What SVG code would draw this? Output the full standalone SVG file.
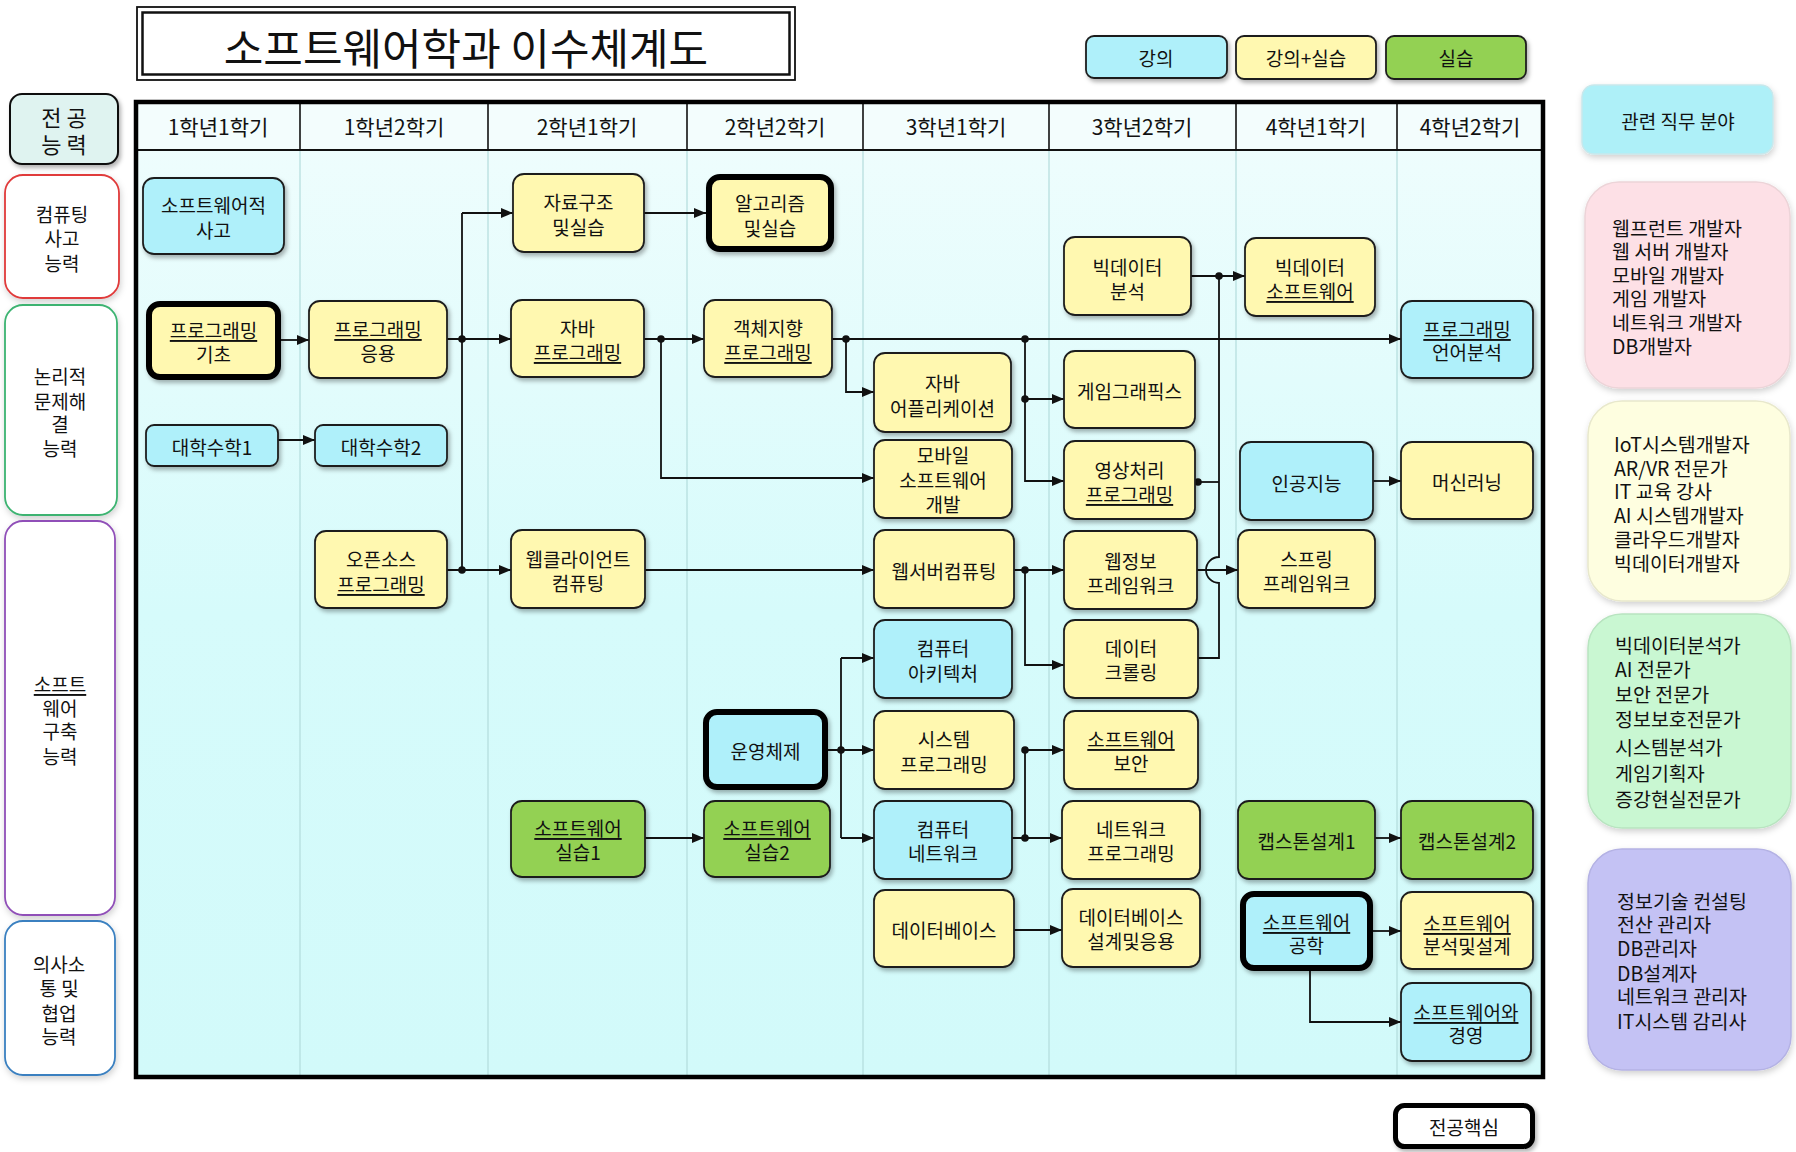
<svg xmlns="http://www.w3.org/2000/svg" width="1796" height="1152" viewBox="0 0 1796 1152">
<defs>
<style>
text{font-family:'Noto Sans CJK KR','Noto Sans',sans-serif;fill:#111;}
.t{font-size:19px;text-anchor:middle;dominant-baseline:central;}
.h{font-size:21px;text-anchor:middle;dominant-baseline:central;}
.r{font-size:19.5px;dominant-baseline:central;}
.u{text-decoration:underline;}
.n{stroke:#1e1e1e;stroke-width:1.8;filter:url(#sh);}
.k{stroke:#000;stroke-width:6;filter:url(#sh);}
.cy{fill:#aff0fa;}
.ye{fill:#fff8b0;}
.gr{fill:#93d152;}
.c{fill:none;stroke:#111;stroke-width:1.8;}
.a{marker-end:url(#ah);}
.d{fill:#111;}
.cap{fill:#fff;stroke-width:1.8;}
</style>
<filter id="sh" x="-10%" y="-10%" width="130%" height="140%"><feDropShadow dx="2" dy="3" stdDeviation="2" flood-color="#000" flood-opacity="0.3"/></filter>
<filter id="sh2" x="-10%" y="-10%" width="130%" height="130%"><feDropShadow dx="1" dy="3" stdDeviation="3" flood-color="#000" flood-opacity="0.18"/></filter>
<linearGradient id="bg" x1="0" y1="0" x2="0" y2="1"><stop offset="0" stop-color="#eefdfd"/><stop offset="0.5" stop-color="#d6fbfb"/><stop offset="1" stop-color="#d2fafa"/></linearGradient>
<marker id="ah" markerWidth="12" markerHeight="10" refX="12" refY="5" orient="auto" markerUnits="userSpaceOnUse"><path d="M0,0 L12,5 L0,10 z" fill="#111"/></marker>
</defs>
<rect width="1796" height="1152" fill="#fff"/>

<g id="title">
<rect x="137" y="7" width="658" height="73" fill="#fff" stroke="#111" stroke-width="1.8"/>
<rect x="142.5" y="12.5" width="647" height="62" fill="none" stroke="#111" stroke-width="2.5"/>
<text x="466" y="46" style="font-size:43px;text-anchor:middle;dominant-baseline:central;">소프트웨어학과 이수체계도</text>
</g>

<g id="legend">
<g id="lg-lecture"><rect class="n cy" x="1086" y="36" width="141" height="42" rx="8"/><text class="t" x="1156" y="57">강의</text></g>
<g id="lg-both"><rect class="n ye" x="1236" y="36" width="140" height="43" rx="8"/><text class="t" x="1306" y="57">강의+실습</text></g>
<g id="lg-lab"><rect class="n gr" x="1386" y="36" width="140" height="43" rx="8"/><text class="t" x="1456" y="57">실습</text></g>
</g>

<g id="table">
<rect x="136" y="150" width="1407" height="927" fill="url(#bg)"/>
<rect x="136" y="102" width="1407" height="48" fill="#f3fdfd"/>
<g stroke="#b3dcdc" stroke-width="1.2">
<line x1="300" y1="150" x2="300" y2="1077"/><line x1="488" y1="150" x2="488" y2="1077"/><line x1="687" y1="150" x2="687" y2="1077"/><line x1="863" y1="150" x2="863" y2="1077"/><line x1="1049" y1="150" x2="1049" y2="1077"/><line x1="1236" y1="150" x2="1236" y2="1077"/><line x1="1397" y1="150" x2="1397" y2="1077"/>
</g>
<g stroke="#111" stroke-width="1.6">
<line x1="300" y1="102" x2="300" y2="150"/><line x1="488" y1="102" x2="488" y2="150"/><line x1="687" y1="102" x2="687" y2="150"/><line x1="863" y1="102" x2="863" y2="150"/><line x1="1049" y1="102" x2="1049" y2="150"/><line x1="1236" y1="102" x2="1236" y2="150"/><line x1="1397" y1="102" x2="1397" y2="150"/>
</g>
<line x1="136" y1="150" x2="1543" y2="150" stroke="#111" stroke-width="2"/>
<rect x="136" y="102" width="1407" height="975" fill="none" stroke="#000" stroke-width="4.5"/>
<text class="h" x="218" y="126">1학년1학기</text>
<text class="h" x="394" y="126">1학년2학기</text>
<text class="h" x="587" y="126">2학년1학기</text>
<text class="h" x="775" y="126">2학년2학기</text>
<text class="h" x="956" y="126">3학년1학기</text>
<text class="h" x="1142" y="126">3학년2학기</text>
<text class="h" x="1316" y="126">4학년1학기</text>
<text class="h" x="1470" y="126">4학년2학기</text>
</g>

<g id="cap-head"><rect x="10" y="94" width="108" height="70" rx="12" fill="#dff3f0" stroke="#111" stroke-width="2" filter="url(#sh)"/><text class="t" style="font-size:22px"><tspan x="64" y="116">전 공</tspan><tspan x="64" y="143">능 력</tspan></text></g>
<g id="cap-1"><rect class="cap" x="5" y="175" width="114" height="123" rx="18" stroke="#e03a3a" filter="url(#sh2)"/><text class="t"><tspan x="62" y="213">컴퓨팅</tspan><tspan x="62" y="237">사고</tspan><tspan x="62" y="262">능력</tspan></text></g>
<g id="cap-2"><rect class="cap" x="5" y="305" width="112" height="210" rx="18" stroke="#3cb371" filter="url(#sh2)"/><text class="t"><tspan x="60" y="375">논리적</tspan><tspan x="60" y="400">문제해</tspan><tspan x="60" y="423">결</tspan><tspan x="60" y="447">능력</tspan></text></g>
<g id="cap-3"><rect class="cap" x="5" y="521" width="110" height="394" rx="18" stroke="#9050b8" filter="url(#sh2)"/><text class="t"><tspan class="u" x="60" y="683">소프트</tspan><tspan x="60" y="707">웨어</tspan><tspan x="60" y="730">구축</tspan><tspan x="60" y="755">능력</tspan></text></g>
<g id="cap-4"><rect class="cap" x="5" y="921" width="110" height="154" rx="18" stroke="#3a80c0" filter="url(#sh2)"/><text class="t"><tspan x="59" y="963">의사소</tspan><tspan x="59" y="987">통 및</tspan><tspan x="59" y="1012">협업</tspan><tspan x="59" y="1035">능력</tspan></text></g>

<g id="connectors">
<path class="c a" d="M281,340 H309"/>
<path class="c a" d="M278,440 H315"/>
<path class="c" d="M462,213 V570"/>
<path class="c a" d="M447,339 H511"/>
<path class="c a" d="M462,213 H513"/>
<path class="c a" d="M447,570 H511"/>
<path class="c a" d="M644,213 H706"/>
<path class="c a" d="M644,339 H704"/>
<path class="c a" d="M661,339 V478 H874"/>
<path class="c a" d="M832,339 H1401"/>
<path class="c a" d="M846,339 V392 H874"/>
<path class="c a" d="M1025,339 V481 H1064"/>
<path class="c a" d="M1025,399 H1064"/>
<path class="c a" d="M1191,276 H1245"/>
<path class="c" d="M1219,276 V557 A13,13 0 0 0 1219,583 V658 H1198"/>
<path class="c" d="M1196,482 H1219"/>
<path class="c a" d="M645,570 H874"/>
<path class="c a" d="M1014,570 H1064"/>
<path class="c a" d="M1025,570 V665 H1064"/>
<path class="c a" d="M1197,570 H1238"/>
<path class="c a" d="M1373,481 H1401"/>
<path class="c a" d="M828,750 H874"/>
<path class="c" d="M841,658 V838"/>
<path class="c a" d="M841,658 H874"/>
<path class="c a" d="M841,838 H874"/>
<path class="c a" d="M645,838 H704"/>
<path class="c a" d="M1012,838 H1062"/>
<path class="c a" d="M1025,838 V750 H1064"/>
<path class="c a" d="M1014,930 H1062"/>
<path class="c a" d="M1374,838 H1401"/>
<path class="c a" d="M1373,931 H1401"/>
<path class="c a" d="M1310,971 V1022 H1401"/>
<circle class="d" cx="462" cy="339" r="3.8"/>
<circle class="d" cx="462" cy="570" r="3.8"/>
<circle class="d" cx="661" cy="339" r="3.8"/>
<circle class="d" cx="846" cy="339" r="3.8"/>
<circle class="d" cx="1025" cy="339" r="3.8"/>
<circle class="d" cx="1025" cy="399" r="3.8"/>
<circle class="d" cx="1219" cy="276" r="3.8"/>
<circle class="d" cx="1198" cy="482" r="3.8"/>
<circle class="d" cx="1025" cy="570" r="3.8"/>
<circle class="d" cx="841" cy="750" r="3.8"/>
<circle class="d" cx="1025" cy="838" r="3.8"/>
<circle class="d" cx="1025" cy="750" r="3.8"/>
</g>

<g id="n-swthink"><rect class="n cy" x="143" y="178" width="141" height="76" rx="11"/><text class="t"><tspan x="213.5" y="204">소프트웨어적</tspan><tspan x="213.5" y="229">사고</tspan></text></g>
<g id="n-progbasic"><rect class="k ye" x="149" y="304" width="129" height="73" rx="11"/><text class="t"><tspan class="u" x="213.5" y="329">프로그래밍</tspan><tspan x="213.5" y="353">기초</tspan></text></g>
<g id="n-math1"><rect class="n cy" x="146" y="425" width="132" height="41" rx="8"/><text class="t" x="212" y="446">대학수학1</text></g>
<g id="n-progapp"><rect class="n ye" x="309" y="301" width="138" height="77" rx="11"/><text class="t"><tspan class="u" x="378" y="328">프로그래밍</tspan><tspan x="378" y="352">응용</tspan></text></g>
<g id="n-math2"><rect class="n cy" x="315" y="425" width="132" height="41" rx="8"/><text class="t" x="381" y="446">대학수학2</text></g>
<g id="n-opensrc"><rect class="n ye" x="315" y="531" width="132" height="77" rx="11"/><text class="t"><tspan x="381" y="558">오픈소스</tspan><tspan class="u" x="381" y="583">프로그래밍</tspan></text></g>
<g id="n-ds"><rect class="n ye" x="513" y="174" width="131" height="78" rx="11"/><text class="t"><tspan x="578.5" y="201">자료구조</tspan><tspan x="578.5" y="226">및실습</tspan></text></g>
<g id="n-java"><rect class="n ye" x="511" y="300" width="133" height="77" rx="11"/><text class="t"><tspan x="577.5" y="327">자바</tspan><tspan class="u" x="577.5" y="351">프로그래밍</tspan></text></g>
<g id="n-webclient"><rect class="n ye" x="511" y="530" width="134" height="78" rx="11"/><text class="t"><tspan x="578" y="558">웹클라이언트</tspan><tspan x="578" y="582">컴퓨팅</tspan></text></g>
<g id="n-swlab1"><rect class="n gr" x="511" y="801" width="134" height="76" rx="11"/><text class="t"><tspan class="u" x="578" y="827">소프트웨어</tspan><tspan x="578" y="851">실습1</tspan></text></g>
<g id="n-algo"><rect class="k ye" x="709" y="177" width="122" height="72" rx="11"/><text class="t"><tspan x="770" y="202">알고리즘</tspan><tspan x="770" y="227">및실습</tspan></text></g>
<g id="n-oop"><rect class="n ye" x="704" y="300" width="128" height="77" rx="11"/><text class="t"><tspan x="768" y="327">객체지향</tspan><tspan class="u" x="768" y="351">프로그래밍</tspan></text></g>
<g id="n-os"><rect class="k cy" x="706" y="712" width="119" height="75" rx="11"/><text class="t" x="765.5" y="750">운영체제</text></g>
<g id="n-swlab2"><rect class="n gr" x="704" y="801" width="126" height="76" rx="11"/><text class="t"><tspan class="u" x="767" y="827">소프트웨어</tspan><tspan x="767" y="851">실습2</tspan></text></g>
<g id="n-javaapp"><rect class="n ye" x="874" y="353" width="137" height="79" rx="11"/><text class="t"><tspan x="942.5" y="382">자바</tspan><tspan x="942.5" y="407">어플리케이션</tspan></text></g>
<g id="n-mobile"><rect class="n ye" x="874" y="440" width="138" height="78" rx="11"/><text class="t"><tspan x="943" y="454">모바일</tspan><tspan x="943" y="479">소프트웨어</tspan><tspan x="943" y="503">개발</tspan></text></g>
<g id="n-webserver"><rect class="n ye" x="874" y="530" width="140" height="78" rx="11"/><text class="t" x="944" y="570">웹서버컴퓨팅</text></g>
<g id="n-arch"><rect class="n cy" x="874" y="620" width="138" height="78" rx="11"/><text class="t"><tspan x="943" y="647">컴퓨터</tspan><tspan x="943" y="672">아키텍처</tspan></text></g>
<g id="n-sysprog"><rect class="n ye" x="874" y="711" width="140" height="78" rx="11"/><text class="t"><tspan x="944" y="738">시스템</tspan><tspan x="944" y="763">프로그래밍</tspan></text></g>
<g id="n-network"><rect class="n cy" x="874" y="801" width="138" height="78" rx="11"/><text class="t"><tspan x="943" y="828">컴퓨터</tspan><tspan x="943" y="852">네트워크</tspan></text></g>
<g id="n-db"><rect class="n ye" x="874" y="890" width="140" height="77" rx="11"/><text class="t" x="944" y="929">데이터베이스</text></g>
<g id="n-bigdata"><rect class="n ye" x="1064" y="237" width="127" height="78" rx="11"/><text class="t"><tspan x="1127.5" y="266">빅데이터</tspan><tspan x="1127.5" y="290">분석</tspan></text></g>
<g id="n-game"><rect class="n ye" x="1064" y="351" width="131" height="77" rx="11"/><text class="t" x="1129.5" y="390">게임그래픽스</text></g>
<g id="n-image"><rect class="n ye" x="1064" y="441" width="131" height="78" rx="11"/><text class="t"><tspan x="1129.5" y="469">영상처리</tspan><tspan class="u" x="1129.5" y="493">프로그래밍</tspan></text></g>
<g id="n-webfw"><rect class="n ye" x="1064" y="531" width="133" height="78" rx="11"/><text class="t"><tspan x="1130.5" y="560">웹정보</tspan><tspan x="1130.5" y="584">프레임워크</tspan></text></g>
<g id="n-crawl"><rect class="n ye" x="1064" y="620" width="134" height="78" rx="11"/><text class="t"><tspan x="1131" y="647">데이터</tspan><tspan x="1131" y="671">크롤링</tspan></text></g>
<g id="n-security"><rect class="n ye" x="1064" y="711" width="134" height="78" rx="11"/><text class="t"><tspan class="u" x="1131" y="738">소프트웨어</tspan><tspan x="1131" y="762">보안</tspan></text></g>
<g id="n-netprog"><rect class="n ye" x="1062" y="801" width="138" height="78" rx="11"/><text class="t"><tspan x="1131" y="828">네트워크</tspan><tspan x="1131" y="852">프로그래밍</tspan></text></g>
<g id="n-dbdesign"><rect class="n ye" x="1062" y="889" width="138" height="78" rx="11"/><text class="t"><tspan x="1131" y="916">데이터베이스</tspan><tspan x="1131" y="940">설계및응용</tspan></text></g>
<g id="n-bigsw"><rect class="n ye" x="1245" y="238" width="130" height="78" rx="11"/><text class="t"><tspan x="1310" y="266">빅데이터</tspan><tspan class="u" x="1310" y="290">소프트웨어</tspan></text></g>
<g id="n-ai"><rect class="n cy" x="1240" y="442" width="133" height="78" rx="11"/><text class="t" x="1306.5" y="482">인공지능</text></g>
<g id="n-spring"><rect class="n ye" x="1238" y="530" width="137" height="78" rx="11"/><text class="t"><tspan x="1306.5" y="558">스프링</tspan><tspan x="1306.5" y="582">프레임워크</tspan></text></g>
<g id="n-cap1"><rect class="n gr" x="1238" y="801" width="137" height="78" rx="11"/><text class="t" x="1306.5" y="840">캡스톤설계1</text></g>
<g id="n-sweng"><rect class="k cy" x="1243" y="894" width="127" height="74" rx="11"/><text class="t"><tspan class="u" x="1306.5" y="921">소프트웨어</tspan><tspan x="1306.5" y="944">공학</tspan></text></g>
<g id="n-lang"><rect class="n cy" x="1401" y="301" width="132" height="77" rx="11"/><text class="t"><tspan class="u" x="1467" y="328">프로그래밍</tspan><tspan x="1467" y="351">언어분석</tspan></text></g>
<g id="n-ml"><rect class="n ye" x="1401" y="442" width="132" height="77" rx="11"/><text class="t" x="1467" y="481">머신러닝</text></g>
<g id="n-cap2"><rect class="n gr" x="1401" y="801" width="132" height="78" rx="11"/><text class="t" x="1467" y="840">캡스톤설계2</text></g>
<g id="n-swad"><rect class="n ye" x="1401" y="892" width="132" height="77" rx="11"/><text class="t"><tspan class="u" x="1467" y="922">소프트웨어</tspan><tspan x="1467" y="945">분석및설계</tspan></text></g>
<g id="n-swmgmt"><rect class="n cy" x="1401" y="983" width="130" height="78" rx="11"/><text class="t"><tspan class="u" x="1466" y="1011">소프트웨어와</tspan><tspan x="1466" y="1034">경영</tspan></text></g>

<g id="jobs-head"><rect x="1582" y="85" width="191" height="69" rx="12" fill="#aef0f8" stroke="#c8e8ec" stroke-width="1.5" filter="url(#sh2)"/><text class="t" x="1678" y="120">관련 직무 분야</text></g>
<g id="jobs-1"><rect x="1585" y="182" width="205" height="206" rx="34" fill="#fde0e6" stroke="#ecd4d8" stroke-width="1.5" filter="url(#sh2)"/>
<text class="r"><tspan x="1612" y="227">웹프런트 개발자</tspan><tspan x="1612" y="250">웹 서버 개발자</tspan><tspan x="1612" y="274">모바일 개발자</tspan><tspan x="1612" y="297">게임 개발자</tspan><tspan x="1612" y="321">네트워크 개발자</tspan><tspan x="1612" y="345">DB개발자</tspan></text></g>
<g id="jobs-2"><rect x="1588" y="401" width="202" height="200" rx="34" fill="#fefee0" stroke="#e8e8cc" stroke-width="1.5" filter="url(#sh2)"/>
<text class="r"><tspan x="1614" y="443">IoT시스템개발자</tspan><tspan x="1614" y="467">AR/VR 전문가</tspan><tspan x="1614" y="490">IT 교육 강사</tspan><tspan x="1614" y="514">AI 시스템개발자</tspan><tspan x="1614" y="538">클라우드개발자</tspan><tspan x="1614" y="562">빅데이터개발자</tspan></text></g>
<g id="jobs-3"><rect x="1588" y="614" width="203" height="214" rx="34" fill="#c9f7d2" stroke="#b8e4c0" stroke-width="1.5" filter="url(#sh2)"/>
<text class="r"><tspan x="1615" y="644">빅데이터분석가</tspan><tspan x="1615" y="668">AI 전문가</tspan><tspan x="1615" y="693">보안 전문가</tspan><tspan x="1615" y="718">정보보호전문가</tspan><tspan x="1615" y="746">시스템분석가</tspan><tspan x="1615" y="772">게임기획자</tspan><tspan x="1615" y="798">증강현실전문가</tspan></text></g>
<g id="jobs-4"><rect x="1588" y="849" width="203" height="221" rx="34" fill="#c4c2f4" stroke="#b4b2e4" stroke-width="1.5" filter="url(#sh2)"/>
<text class="r"><tspan x="1617" y="900">정보기술 컨설팅</tspan><tspan x="1617" y="923">전산 관리자</tspan><tspan x="1617" y="947">DB관리자</tspan><tspan x="1617" y="972">DB설계자</tspan><tspan x="1617" y="995">네트워크 관리자</tspan><tspan x="1617" y="1020">IT시스템 감리사</tspan></text></g>

<g id="core-legend"><rect x="1395.5" y="1105.5" width="137" height="41" rx="9" fill="#fff" stroke="#000" stroke-width="5" filter="url(#sh)"/><text class="t" x="1464" y="1126">전공핵심</text></g>
</svg>
